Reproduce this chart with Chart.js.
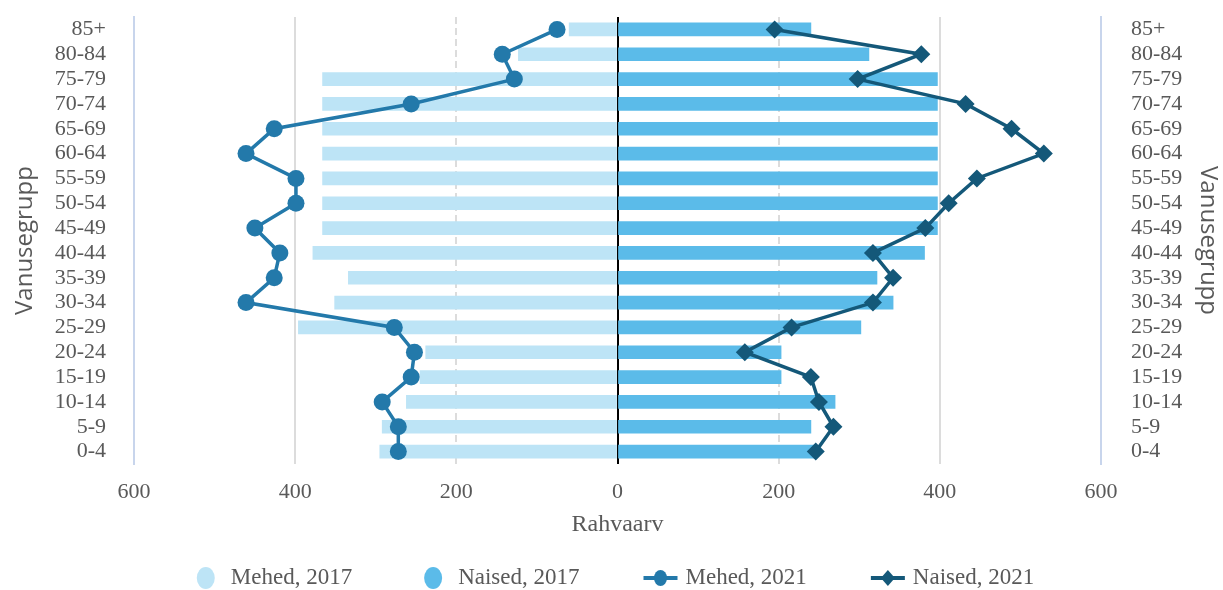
<!DOCTYPE html>
<html>
<head>
<meta charset="utf-8">
<script src="https://cdn.jsdelivr.net/npm/chart.js@4/dist/chart.umd.min.js"></script>
<style>
  html, body { margin: 0; padding: 0; background: #fff; }
  #wrap { width: 1223px; height: 590px; }
</style>
</head>
<body>
<div id="wrap"><canvas id="chart"></canvas></div>
<script>
// age groups, bottom to top
const ageGroups = ['0-4', '5-9', '10-14', '15-19', '20-24', '25-29', '30-34', '35-39', '40-44',
  '45-49', '50-54', '55-59', '60-64', '65-69', '70-74', '75-79', '80-84', '85+'];

// population
const men2017   = [295, 292, 262, 245, 238, 396, 351, 334, 378, 366, 366, 366, 366, 366, 366, 366, 123, 60];
const women2017 = [245, 240, 270, 203, 203, 302, 342, 322, 381, 397, 397, 397, 397, 397, 397, 397, 312, 240];
const men2021   = [272, 272, 292, 256, 252, 277, 461, 426, 419, 450, 399, 399, 461, 426, 256, 128, 143, 75];
const women2021 = [246, 268, 250, 240, 158, 216, 317, 342, 317, 382, 411, 446, 529, 489, 432, 298, 377, 195];

const xTicks = [-600, -400, -200, 0, 200, 400, 600];

const TEXT = '#595959';
const SERIF = '"Liberation Serif", "Times New Roman", serif';
const SANS = '"Open Sans", "DejaVu Sans", sans-serif';
const AXIS_BLUE = '#c8d5ec';

// men go to the left
const neg = arr => arr.map(v => -v);

// legend drawn under the chart (line items get a line + marker)
const bottomLegend = {
  id: 'bottomLegend',
  afterDraw(chart) {
    const ctx = chart.ctx;
    ctx.save();
    ctx.font = '23px ' + SERIF;
    ctx.textBaseline = 'middle';
    const markW = 34, gapText = 8, gapItem = 64;
    const items = chart.data.datasets.map(ds => ({ds, w: ctx.measureText(ds.label).width}));
    const total = items.reduce((s, it) => s + markW + gapText + it.w, 0) + gapItem * (items.length - 1);
    let x = (chart.width - total) / 2;
    const y = chart.height - 12;
    items.forEach(({ds, w}) => {
      const cx = x + markW / 2;
      if (ds.type === 'line') {
        ctx.strokeStyle = ds.borderColor;
        ctx.lineWidth = 4;
        ctx.beginPath();
        ctx.moveTo(cx - 17, y);
        ctx.lineTo(cx + 17, y);
        ctx.stroke();
        ctx.fillStyle = ds.borderColor;
        ctx.beginPath();
        if (ds.pointStyle === 'rectRot') {
          ctx.moveTo(cx, y - 8); ctx.lineTo(cx + 7, y); ctx.lineTo(cx, y + 8); ctx.lineTo(cx - 7, y);
          ctx.closePath();
        } else {
          ctx.ellipse(cx, y, 6.5, 8, 0, 0, Math.PI * 2);
        }
        ctx.fill();
      } else {
        ctx.fillStyle = ds.backgroundColor;
        ctx.beginPath();
        ctx.ellipse(cx, y, 9, 11, 0, 0, Math.PI * 2);
        ctx.fill();
      }
      ctx.fillStyle = TEXT;
      ctx.fillText(ds.label, x + markW + gapText, y);
      x += markW + gapText + w + gapItem;
    });
    ctx.restore();
  }
};

// fixed side widths, and no extra label padding above/below the plot
const fixSide = width => scale => {
  scale.width = width;
  scale.paddingTop = 0;
  scale.paddingBottom = 0;
};

const yAxisCommon = {
  type: 'category',
  reverse: true,
  offset: true,
  grid: { display: false, drawTicks: false },
  border: { display: true, color: AXIS_BLUE, width: 2 },
  ticks: { color: TEXT, font: { family: SERIF, size: 22 }, padding: 28, autoSkip: false },
  title: {
    display: true, text: 'Vanusegrupp', color: TEXT,
    font: { family: SANS, size: 24 }
  }
};

new Chart(document.getElementById('chart'), {
  data: {
    labels: ageGroups,
    datasets: [
      {
        type: 'bar', label: 'Mehed, 2017', data: neg(men2017),
        backgroundColor: '#bde4f6', barThickness: 13, grouped: false, order: 2
      },
      {
        type: 'bar', label: 'Naised, 2017', data: women2017,
        backgroundColor: '#5bbbe9', barThickness: 13, grouped: false, order: 2
      },
      {
        type: 'line', label: 'Mehed, 2021', data: neg(men2021),
        borderColor: '#2379aa', backgroundColor: '#2379aa', borderWidth: 3.5,
        pointStyle: 'circle', pointRadius: 8.5, pointBorderWidth: 0,
        pointBackgroundColor: '#2379aa', tension: 0, order: 1
      },
      {
        type: 'line', label: 'Naised, 2021', data: women2021,
        borderColor: '#145879', backgroundColor: '#145879', borderWidth: 3.5,
        pointStyle: 'rectRot', pointRadius: 9, pointBorderWidth: 0,
        pointBackgroundColor: '#145879', tension: 0, order: 1
      }
    ]
  },
  options: {
    indexAxis: 'y',
    responsive: true,
    maintainAspectRatio: false,
    animation: false,
    layout: { padding: { left: 8, right: 0, top: 17, bottom: 51 } },
    plugins: {
      legend: { display: false },
      tooltip: { enabled: false }
    },
    scales: {
      x: {
        type: 'linear',
        min: -600,
        max: 600,
        afterBuildTicks: scale => { scale.ticks = xTicks.map(v => ({ value: v })); },
        afterFit: scale => { scale.height = 75; },
        grid: {
          drawTicks: false,
          color: c => {
            const v = c.tick ? c.tick.value : null;
            if (v === 0) return '#000000';
            if (Math.abs(v) === 600) return 'rgba(0,0,0,0)';
            return '#dcdcdc';
          },
          lineWidth: 2
        },
        border: {
          display: false,
          dash: c => (c.tick && Math.abs(c.tick.value) === 200 ? [7, 4] : [])
        },
        ticks: {
          color: TEXT, font: { family: SERIF, size: 22 }, padding: 15,
          callback: v => String(Math.abs(v))
        },
        title: {
          display: true, text: 'Rahvaarv', color: TEXT,
          font: { family: SERIF, size: 24 }, padding: { top: 0, bottom: 0 }
        }
      },
      y: Object.assign({}, yAxisCommon, {
        position: 'left',
        afterFit: fixSide(126),
        title: Object.assign({}, yAxisCommon.title, { padding: { top: 3, bottom: 0 } })
      }),
      y2: Object.assign({}, yAxisCommon, {
        position: 'right',
        afterFit: fixSide(122),
        ticks: Object.assign({}, yAxisCommon.ticks, { padding: 30 }),
        title: Object.assign({}, yAxisCommon.title, { padding: { top: 1, bottom: 0 } })
      })
    }
  },
  plugins: [bottomLegend]
});
</script>
</body>
</html>
